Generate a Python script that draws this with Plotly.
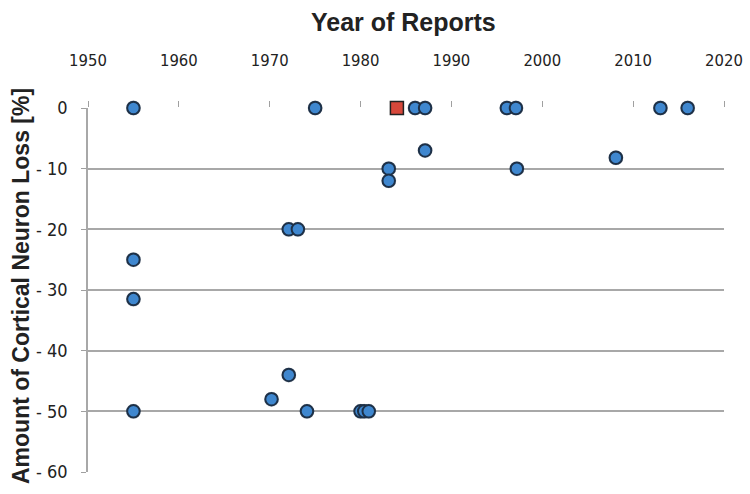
import plotly.graph_objects as go

# Data
blue_years = [1955, 1955, 1955, 1955, 1970.2, 1972.1, 1972.1, 1973.1, 1974.1, 1975,
              1980.0, 1980.4, 1980.9, 1983.1, 1983.1, 1986, 1987.1, 1987.1,
              1996.1, 1997.1, 1997.2, 2008.1, 2013, 2016]
blue_loss = [0, -25, -31.5, -50, -48, -44, -20, -20, -50, 0,
             -50, -50, -50, -10, -12, 0, 0, -7,
             0, 0, -10, -8.2, 0, 0]
red_years = [1984]
red_loss = [0]

x_ticks = [1950, 1960, 1970, 1980, 1990, 2000, 2010, 2020]
y_ticks = [0, -10, -20, -30, -40, -50, -60]
y_ticktext = ["0", "- 10", "- 20", "- 30", "- 40", "- 50", "- 60"]

narrow = "DejaVu Sans Condensed, Liberation Sans Narrow, Liberation Sans"

fig = go.Figure()
# soft shadow
fig.add_trace(go.Scatter(
    x=blue_years, y=blue_loss, mode="markers", cliponaxis=False, hoverinfo="skip",
    marker=dict(symbol="circle", size=15, color="rgba(40,50,70,0.22)", line=dict(width=0)),
    showlegend=False))
fig.add_trace(go.Scatter(
    x=blue_years, y=blue_loss, mode="markers", cliponaxis=False,
    marker=dict(symbol="circle", size=12.5, color="#3f87cf",
                line=dict(width=2, color="#1d3047")),
    showlegend=False))
fig.add_trace(go.Scatter(
    x=red_years, y=red_loss, mode="markers", cliponaxis=False,
    marker=dict(symbol="square", size=13, color="#d7483b",
                line=dict(width=1.5, color="#222222")),
    showlegend=False))

fig.update_layout(
    width=750, height=494,
    margin=dict(l=88, r=26, t=108, b=22, autoexpand=False),
    paper_bgcolor="white", plot_bgcolor="white",
    font=dict(family="Liberation Sans, Arial", color="#222222"),
    xaxis=dict(
        range=[1950, 2020], side="top", tickvals=x_ticks,
        ticks="outside", ticklen=6, tickcolor="#a0a0a0", tickwidth=1.2,
        ticklabelstandoff=28,
        showgrid=False, zeroline=False, showline=False,
        tickfont=dict(size=16.5, family=narrow, color="#222222"),
    ),
    yaxis=dict(
        range=[-60, 0], tickvals=y_ticks, ticktext=y_ticktext,
        ticks="outside", ticklen=5, tickcolor="#a0a0a0",
        showgrid=True, gridcolor="#a8a8a8", gridwidth=1.5,
        zeroline=False, showline=True, linecolor="#a8a8a8", linewidth=1.5,
        tickfont=dict(size=18, family=narrow, color="#222222"),
        ticklabelstandoff=10,
    ),
    annotations=[
        dict(text="<b>Year of Reports</b>", xref="paper", yref="paper",
             x=0, xshift=403 - 88, y=1, yshift=108 - 22, xanchor="center", yanchor="middle",
             showarrow=False, font=dict(size=25, family="Liberation Sans, Arial", color="#222222")),
        dict(text="<b>Amount of Cortical Neuron Loss [%]</b>", xref="paper", yref="paper",
             x=0, xshift=21 - 88, y=0.5, yshift=4, xanchor="center", yanchor="middle", textangle=-90,
             showarrow=False, font=dict(size=23, family="Liberation Sans, Arial", color="#222222")),
    ],
)

fig.write_html("out.html", config={"displayModeBar": False},
               post_script="document.body.style.margin='0';document.body.style.padding='0';")
